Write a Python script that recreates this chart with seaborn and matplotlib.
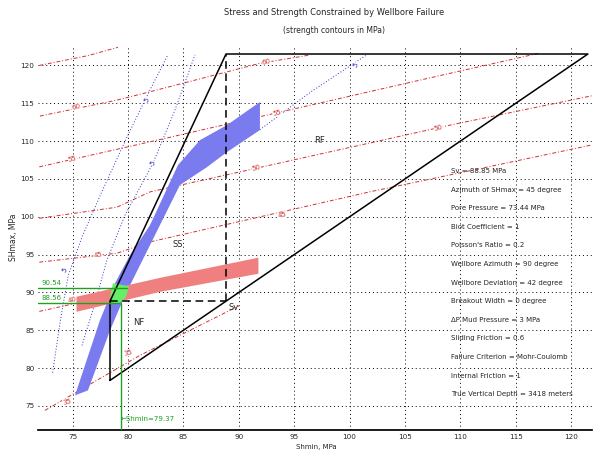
import numpy as np
import pandas as pd
import matplotlib
matplotlib.use("Agg")
import matplotlib.pyplot as plt
import seaborn as sns

sns.set_theme(style="white")
plt.rcParams['font.family'] = ['DejaVu Sans']

# ---- model parameters ----
Sv = 88.85
Pp = 73.44
mu = 0.6
shmin_line = 79.37
shmax_lo, shmax_hi = 88.56, 90.54

q = (np.sqrt(mu**2 + 1) + mu) ** 2
shmin_min = (Sv - Pp) / q + Pp
shmax_max = q * (Sv - Pp) + Pp

# ---- red strength contours (dash-dot) ----
red_x = [[72.0, 76.4, 79.1],
         [72.06, 79.01, 81.99, 91.91, 96.43],
         [72.0, 79.28, 81.99, 109.06, 117.19],
         [72.0, 79.01, 81.99, 109.06, 121.9],
         [72.0, 79.01, 81.99, 101.84, 121.9],
         [72.0, 75.4],
         [72.51, 81.08, 90.11]]
red_y = [[120.0, 121.3, 122.4],
         [113.31, 115.42, 116.52, 120.28, 121.38],
         [106.6, 109.01, 109.91, 118.96, 121.64],
         [99.8, 101.27, 103.29, 112.11, 116.0],
         [94.0, 95.19, 96.68, 103.3, 109.5],
         [87.5, 88.6],
         [74.42, 81.69, 88.3]]
red_lab = ["", "60", "55", "50", "45", "40", "35"]
red_lab_at = [[], [(92.5, 120.5), (75.3, 114.5)], [(93.45, 113.66), (75.0, 107.6)],
              [(91.6, 106.4), (108.0, 111.8)], [(93.9, 100.2), (77.3, 94.9)],
              [(75.0, 89.0)], [(80.0, 82.0), (74.5, 75.6)]]

# ---- blue strength contours (dotted) ----
blue_x = [[73.2, 73.9, 74.6, 75.9, 77.7, 80.0, 82.0, 83.6],
          [75.85, 77.02, 78.1, 79.73, 82.26, 84.24, 86.05],
          [91.9, 96.5, 101.55]]
blue_y = [[79.4, 86.3, 92.2, 97.5, 103.5, 110.8, 116.8, 121.4],
          [83.0, 88.58, 94.26, 100.21, 107.09, 114.1, 121.4],
          [111.5, 116.5, 121.4]]
blue_lab = ["5", "5", "5"]
blue_lab_at = [[(74.3, 92.9), (81.7, 115.4)], [(82.26, 107.1)], [(100.6, 120.0)]]

# ---- constrained bands ----
blue_up_x = [75.22, 77.47, 78.83, 80.18, 81.99, 84.51, 86.5, 88.94, 91.91]
blue_up_y = [76.4, 86.32, 91.22, 94.92, 98.89, 106.83, 110.13, 112.12, 115.17]
blue_lo_x = [76.39, 78.38, 79.73, 81.99, 84.69, 87.13, 88.94, 91.91]
blue_lo_y = [77.06, 84.98, 89.61, 96.26, 104.2, 106.56, 108.55, 111.46]

red_band_x = [75.31, 82.89, 91.73]
red_band_top = [89.5, 92.01, 94.66]
red_band_bot = [87.51, 90.16, 92.54]

green_x = [78.65, 80.09, 79.82, 79.1, 78.38, 78.47]
green_y = [91.21, 90.82, 89.37, 88.44, 88.7, 90.02]

xticks = [75, 80, 85, 90, 95, 100, 105, 110, 115, 120]
yticks = [75, 80, 85, 90, 95, 100, 105, 110, 115, 120]

params = ["Sv = 88.85 MPa",
          "Azimuth of SHmax = 45 degree",
          "Pore Pressure = 73.44 MPa",
          "Biot Coefficient = 1",
          "Poisson's Ratio = 0.2",
          "Wellbore Azimuth = 90 degree",
          "Wellbore Deviation = 42 degree",
          "Breakout Width = 0 degree",
          "ΔP Mud Pressure = 3 MPa",
          "Sliding Friction = 0.6",
          "Failure Criterion = Mohr-Coulomb",
          "Internal Friction = 1",
          "True Vertical Depth = 3418 meters"]

fig = plt.figure(figsize=(5.97, 4.5), dpi=100)
ax = fig.add_axes([0.064, 0.044, 0.928, 0.856])
xlim = (71.9, 121.9)
ylim = (71.8, 122.7)

# bands
band_blue = pd.DataFrame({"x": blue_up_x + blue_lo_x[::-1], "y": blue_up_y + blue_lo_y[::-1]})
ax.fill(band_blue["x"], band_blue["y"], color="#7b7bf0", lw=0, zorder=2)
ax.fill_between(red_band_x, red_band_bot, red_band_top, color="#f08080", lw=0, zorder=2)
ax.fill(green_x, green_y, color="#66ee66", lw=0, zorder=3)

# contours
for xs, ys, lab, ats in zip(red_x, red_y, red_lab, red_lab_at):
    sns.lineplot(x=xs, y=ys, ax=ax, color="#d03030", lw=0.7, sort=False, estimator=None,
                 linestyle=(0, (4, 2, 1, 2)), zorder=1)
    for at in ats:
        ax.text(at[0], at[1], lab, color="#d03030", fontsize=5, ha="center", va="center", rotation=15,
                bbox=dict(fc="white", ec="none", pad=0.2), zorder=1.5)
for xs, ys, lab, ats in zip(blue_x, blue_y, blue_lab, blue_lab_at):
    sns.lineplot(x=xs, y=ys, ax=ax, color="#3030c0", lw=0.7, sort=False, estimator=None,
                 linestyle=(0, (1, 2)), zorder=1)
    for at in ats:
        ax.text(at[0], at[1], lab, color="#3030c0", fontsize=5, ha="center", va="center", rotation=60,
                bbox=dict(fc="white", ec="none", pad=0.2), zorder=1.5)

# stress polygon
poly_x = [shmin_min, shmin_min, Sv, shmax_max, shmin_min]
poly_y = [shmin_min, Sv, shmax_max, shmax_max, shmin_min]
sns.lineplot(x=poly_x, y=poly_y, ax=ax, color="black", lw=1.1, sort=False, estimator=None, zorder=4)
ax.plot([shmin_min, Sv], [Sv, Sv], color="black", lw=1.1, ls=(0, (5, 3)), zorder=4)
ax.plot([Sv, Sv], [Sv, shmax_max], color="black", lw=1.1, ls=(0, (5, 3)), zorder=4)
ax.text(81.0, 86.0, "NF", fontsize=6, ha="center", va="center")
ax.text(84.5, 96.3, "SS", fontsize=6, ha="center", va="center")
ax.text(97.3, 110.1, "RF", fontsize=6, ha="center", va="center")
ax.text(Sv + 0.2, Sv - 0.8, "Sv", fontsize=6, ha="left", va="center")

# green constraint lines
ax.plot([xlim[0], 79.9], [shmax_hi, shmax_hi], color="#20a020", lw=1.0, zorder=5)
ax.plot([xlim[0], 79.2], [shmax_lo, shmax_lo], color="#20a020", lw=1.0, zorder=5)
ax.plot([shmin_line, shmin_line], [ylim[0], 88.6], color="#20a020", lw=1.0, zorder=5)
ax.text(xlim[0] + 0.3, shmax_hi + 0.3, f"{shmax_hi:.2f}", color="#20a020", fontsize=5, va="bottom")
ax.text(xlim[0] + 0.3, shmax_lo + 0.3, f"{shmax_lo:.2f}", color="#20a020", fontsize=5, va="bottom")
ax.text(shmin_line, 73.3, f"\u2190Shmin={shmin_line:.2f}", color="#20a020", fontsize=5, va="center")

# parameter text
for i, s in enumerate(params):
    ax.text(0.745, 0.673 - i * 0.0483, s, transform=ax.transAxes, fontsize=5, va="center")

ax.set_xlim(*xlim)
ax.set_ylim(*ylim)
ax.set_xticks(xticks)
ax.set_yticks(yticks)
ax.tick_params(labelsize=5.2, length=2, pad=0.8)
ax.grid(True, ls=(0, (1, 3)), color="black", lw=0.7)
for s in ["top", "right", "left"]:
    ax.spines[s].set_visible(False)
ax.spines["bottom"].set_color("black")
ax.set_xlabel("")
fig.text(0.53, 0.0, "Shmin, MPa", ha="center", va="bottom", fontsize=5)
ax.set_ylabel("SHmax, MPa", fontsize=5.5, labelpad=2)
fig.text(0.56, 0.973, "Stress and Strength Constrained by Wellbore Failure", ha="center", va="center", fontsize=6)
fig.text(0.56, 0.933, "(strength contours in MPa)", ha="center", va="center", fontsize=5.5)

fig.savefig("out.png", dpi=100)
